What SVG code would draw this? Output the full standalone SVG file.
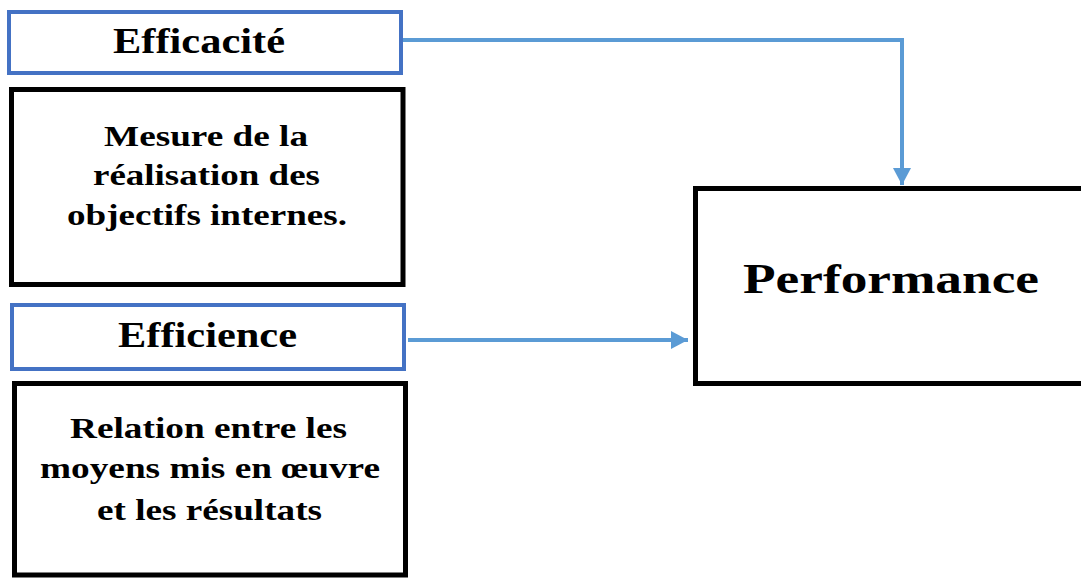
<svg xmlns="http://www.w3.org/2000/svg" width="1081" height="578" viewBox="0 0 1081 578">
<style>
.bbox{fill:#fff;stroke:#4472C4;stroke-width:4}
.kbox{fill:#fff;stroke:#000;stroke-width:5}
.t{font-family:"Liberation Serif","Times New Roman",serif;font-weight:bold;fill:#000}
.conn{fill:none;stroke:#5B9BD5;stroke-width:4}
</style>
<defs>
<marker id="ah" markerUnits="userSpaceOnUse" markerWidth="18" markerHeight="20" refX="17" refY="10" orient="auto">
<path d="M0,1 L17,10 L0,19 Z" fill="#5B9BD5"/>
</marker>
</defs>
<rect width="1081" height="578" fill="#fff"/>
<g id="efficacite">
<rect class="bbox" x="9" y="12" width="392" height="61"/>
<text class="t" x="113" y="53" font-size="35" textLength="172" lengthAdjust="spacingAndGlyphs">Efficacité</text>
</g>
<g id="mesure">
<rect class="kbox" x="11.5" y="89.5" width="391.5" height="195"/>
<text class="t" font-size="29"><tspan x="104" y="146" textLength="204" lengthAdjust="spacingAndGlyphs">Mesure de la</tspan></text>
<text class="t" font-size="29"><tspan x="93" y="185" textLength="227" lengthAdjust="spacingAndGlyphs">réalisation des</tspan></text>
<text class="t" font-size="29"><tspan x="67" y="225" textLength="280" lengthAdjust="spacingAndGlyphs">objectifs internes.</tspan></text>
</g>
<g id="efficience">
<rect class="bbox" x="12" y="305" width="392" height="64"/>
<text class="t" x="118" y="347" font-size="36" textLength="179" lengthAdjust="spacingAndGlyphs">Efficience</text>
</g>
<g id="relation">
<rect class="kbox" x="14.5" y="383.5" width="391" height="191.5"/>
<text class="t" font-size="29"><tspan x="70" y="438" textLength="277" lengthAdjust="spacingAndGlyphs">Relation entre les</tspan></text>
<text class="t" font-size="29"><tspan x="40" y="478" textLength="340" lengthAdjust="spacingAndGlyphs">moyens mis en œuvre</tspan></text>
<text class="t" font-size="29"><tspan x="97" y="520" textLength="225" lengthAdjust="spacingAndGlyphs">et les résultats</tspan></text>
</g>
<g id="performance">
<rect class="kbox" x="695.5" y="188.5" width="400" height="195"/>
<text class="t" x="743" y="293" font-size="43" textLength="296" lengthAdjust="spacingAndGlyphs">Performance</text>
</g>
<g id="connectors">
<path class="conn" d="M403,40 H902 V185" marker-end="url(#ah)"/>
<path class="conn" d="M408,340 H688" marker-end="url(#ah)"/>
</g>
</svg>
